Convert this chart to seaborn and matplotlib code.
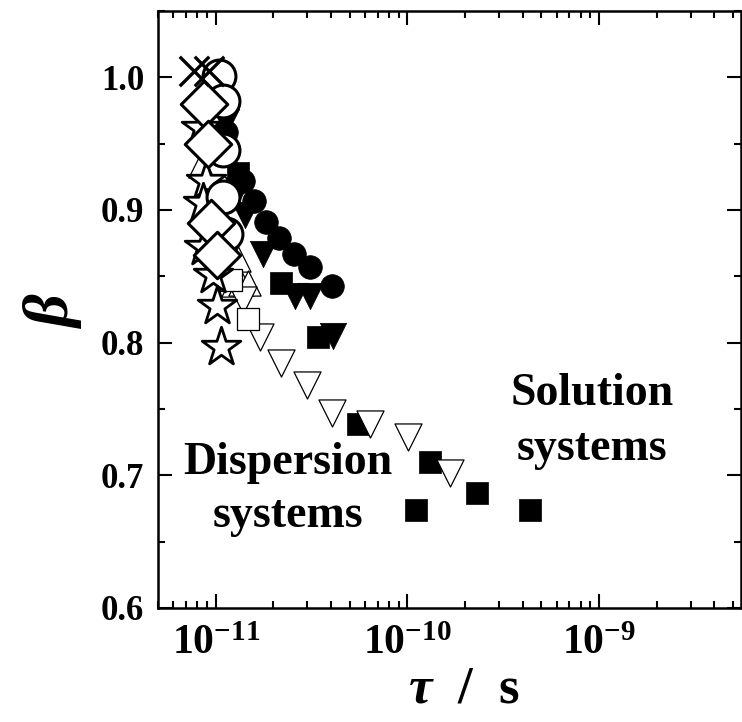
import numpy as np
import matplotlib
matplotlib.use('Agg')
import matplotlib.pyplot as plt
import matplotlib.ticker as mticker
import seaborn as sns

# Data (tau in s, beta)
cross_tau = [7.7e-12, 9.2e-12]
cross_beta = [1.005, 1.005]

ocircle_tau = [1.04e-11, 1.09e-11, 1.09e-11, 1.09e-11, 1.13e-11]
ocircle_beta = [1.001, 0.982, 0.945, 0.910, 0.882]

diamond_tau = [8.67e-12, 9.1e-12, 9.42e-12, 1.02e-11]
diamond_beta = [0.980, 0.950, 0.890, 0.866]

star_tau = [8.36e-12, 8.87e-12, 8.56e-12, 8.66e-12, 9.65e-12, 1.01e-11, 1.06e-11]
star_beta = [0.962, 0.922, 0.905, 0.872, 0.851, 0.828, 0.797]

fcircle_tau = [1.13e-11, 1.38e-11, 1.575e-11, 1.82e-11, 2.15e-11, 2.57e-11, 3.12e-11, 4.06e-11]
fcircle_beta = [0.959, 0.922, 0.907, 0.891, 0.879, 0.867, 0.857, 0.843]

fdown_tau = [1.127e-11, 1.30e-11, 1.43e-11, 1.775e-11, 2.60e-11, 3.12e-11, 4.1e-11]
fdown_beta = [0.966, 0.915, 0.896, 0.867, 0.835, 0.835, 0.805]

fsquare_tau = [1.30e-11, 2.20e-11, 3.43e-11, 5.53e-11, 1.11e-10, 1.31e-10, 2.30e-10, 4.38e-10]
fsquare_beta = [0.928, 0.845, 0.804, 0.739, 0.674, 0.710, 0.687, 0.674]

oup_tau = [8.4e-12, 1.30e-11, 1.24e-11, 1.35e-11, 1.48e-11]
oup_beta = [0.934, 0.863, 0.844, 0.845, 0.845]

odown_tau = [1.38e-11, 1.71e-11, 2.18e-11, 3.01e-11, 4.06e-11, 6.39e-11, 1.007e-10, 1.66e-10]
odown_beta = [0.832, 0.804, 0.785, 0.768, 0.747, 0.739, 0.729, 0.702]

osquare_tau = [1.2e-11, 1.48e-11]
osquare_beta = [0.847, 0.818]

x_ticks = [1e-11, 1e-10, 1e-9]

sns.set_style('ticks')
plt.rcParams['font.family'] = ['Liberation Serif', 'DejaVu Serif']
plt.rcParams['font.weight'] = 'bold'
plt.rcParams['text.color'] = 'black'
plt.rcParams['axes.labelcolor'] = 'black'
plt.rcParams['xtick.color'] = 'black'
plt.rcParams['ytick.color'] = 'black'
plt.rcParams['axes.edgecolor'] = 'black'
plt.rcParams['mathtext.fontset'] = 'custom'
plt.rcParams['mathtext.rm'] = 'Liberation Serif:bold'
plt.rcParams['mathtext.bf'] = 'Liberation Serif:bold'
plt.rcParams['mathtext.it'] = 'Liberation Serif:italic:bold'

fig = plt.figure(figsize=(7.42, 7.22), dpi=100)
ax = fig.add_axes([158 / 742, 1 - 608 / 722, 583 / 742, 597 / 722])

# (x, y, marker, size, face, linewidth, zorder)
series = [
    (fsquare_tau, fsquare_beta, 's', 240, 'black', 0.5, 3),
    (fdown_tau, fdown_beta, 'v', 360, 'black', 0.5, 3),
    (fcircle_tau, fcircle_beta, 'o', 290, 'black', 0.5, 3),
    (oup_tau, oup_beta, '^', 330, 'white', 0.9, 4),
    (odown_tau, odown_beta, 'v', 380, 'white', 0.9, 4),
    (osquare_tau, osquare_beta, 's', 230, 'white', 0.9, 4),
    (star_tau, star_beta, '*', 850, 'white', 2.0, 5),
    (ocircle_tau, ocircle_beta, 'o', 560, 'white', 2.2, 6),
    (diamond_tau, diamond_beta, 'D', 560, 'white', 2.2, 7),
]
for xs, ys, m, s, fc, lw, z in series:
    sns.scatterplot(x=xs, y=ys, marker=m, s=s, facecolor=fc, edgecolor='black',
                    linewidth=lw, ax=ax, zorder=z, legend=False)

sns.scatterplot(x=cross_tau, y=cross_beta, marker='x', s=450, color='black',
                linewidth=2.4, ax=ax, zorder=8, legend=False)

ax.set_xscale('log')
ax.set_xlim(5e-12, 5.5e-9)
ax.set_ylim(0.6, 1.05)

ax.xaxis.set_major_locator(mticker.FixedLocator(x_ticks))
ax.xaxis.set_minor_locator(mticker.LogLocator(base=10, subs=np.arange(2, 10), numticks=20))
ax.xaxis.set_minor_formatter(mticker.NullFormatter())
ax.xaxis.set_major_formatter(mticker.FuncFormatter(
    lambda v, p: r'$\mathbf{10^{%d}}$' % int(round(np.log10(v)))))
ax.yaxis.set_major_locator(mticker.MultipleLocator(0.1))
ax.yaxis.set_minor_locator(mticker.MultipleLocator(0.05))
ax.yaxis.set_major_formatter(mticker.FormatStrFormatter('%.1f'))

ax.tick_params(which='both', direction='in', top=True, right=True, width=1.5,
               labelsize=25, pad=10)
ax.tick_params(axis='x', which='major', pad=12, labelsize=30)
ax.tick_params(which='major', length=10)
ax.tick_params(which='minor', length=5)
for sp in ax.spines.values():
    sp.set_linewidth(1.8)
for lab in ax.get_yticklabels():
    lab.set_fontweight('bold')

ax.set_xlabel(r'$\tau$  /  s', fontsize=38, fontweight='bold', labelpad=2, x=0.525)
ax.set_ylabel(r'$\beta$', fontsize=46, labelpad=12)

ax.text(0.223, 0.198, 'Dispersion\nsystems', transform=ax.transAxes, ha='center',
        va='center', fontsize=33, fontweight='bold', linespacing=1.35)
ax.text(0.744, 0.312, 'Solution\nsystems', transform=ax.transAxes, ha='center',
        va='center', fontsize=33, fontweight='bold', linespacing=1.4)

fig.savefig('out.png', dpi=100)
